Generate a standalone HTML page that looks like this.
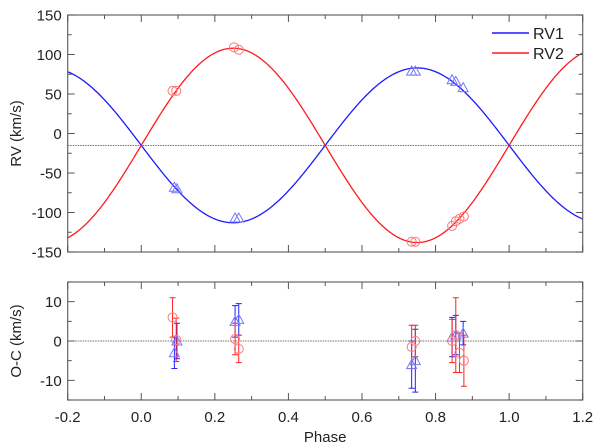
<!DOCTYPE html>
<html><head><meta charset="utf-8">
<style>html,body{margin:0;padding:0;background:#fff;width:600px;height:445px;overflow:hidden}
svg text{font-family:"Liberation Sans",Arial,sans-serif;fill:#222}</style></head>
<body>
<svg id="s" width="600" height="445" viewBox="0 0 600 445" xmlns="http://www.w3.org/2000/svg"></svg>
<script>
const S=document.getElementById('s');
let h='';
const L=67.7,R=582.7,T1=15,B1=252,T2=282,B2=400;
const X=p=>L+(p+0.2)/1.4*(R-L);
const Y1=v=>T1+(150-v)/300*(B1-T1);
const Y2=v=>T2+(15-v)/30*(B2-T2);
const g=-15,K1=98,K2=123;
let p1='',p2='';
for(let i=0;i<=280;i++){const p=-0.2+i*0.005;const s=Math.sin(2*Math.PI*p);
p1+=(i?'L':'M')+X(p).toFixed(2)+','+Y1(g-K1*s).toFixed(2);
p2+=(i?'L':'M')+X(p).toFixed(2)+','+Y1(g+K2*s).toFixed(2);}
// dotted lines
h+=`<line x1="${L}" x2="${R}" y1="${Y1(g)}" y2="${Y1(g)}" stroke="#444" stroke-width="0.8" stroke-dasharray="1.5,1"/>`;
h+=`<line x1="${L}" x2="${R}" y1="${Y2(0)}" y2="${Y2(0)}" stroke="#444" stroke-width="0.8" stroke-dasharray="1.5,1"/>`;
h+=`<path d="${p1}" fill="none" stroke="#1a1aff" stroke-width="1.3"/>`;
h+=`<path d="${p2}" fill="none" stroke="#ff1a1a" stroke-width="1.3"/>`;
const tri=(x,y)=>`<path d="M${x},${y-5}L${x+5},${y+4}L${x-5},${y+4}Z" fill="none" stroke="#7777ff" stroke-width="1"/>`;
const cir=(x,y)=>`<circle cx="${x}" cy="${y}" r="4.5" fill="none" stroke="#ff7777" stroke-width="1"/>`;
const rv1=[[0.09,-68],[0.097,-70],[0.255,-107],[0.265,-107],[0.735,79],[0.745,79],[0.845,68],[0.855,66],[0.875,58]];
const rv2=[[0.085,54],[0.095,54],[0.252,109],[0.265,106],[0.735,-137],[0.745,-137],[0.845,-117],[0.855,-111],[0.865,-108],[0.877,-105]];
rv1.forEach(d=>h+=tri(X(d[0]),Y1(d[1])));
rv2.forEach(d=>h+=cir(X(d[0]),Y1(d[1])));
// residuals
const oc1=[[0.09,-3,4],[0.097,0,4.5],[0.255,5,4],[0.265,5.5,4],[0.735,-6,6],[0.745,-5,8],[0.845,1,5],[0.855,1.5,5],[0.875,2,3]];
const oc2=[[0.085,6,5],[0.095,0.3,5.5],[0.255,0.5,4],[0.265,-2,3.5],[0.735,-1.5,5.5],[0.745,0,4],[0.845,0,5.5],[0.855,1.5,9.5],[0.865,-3,5],[0.877,-5,6.5]];
const eb=(d,c)=>{const x=X(d[0]);const a=Y2(d[1]+d[2]),b=Y2(d[1]-d[2]);
return `<path d="M${x},${a}V${b}M${x-3},${a}H${x+3}M${x-3},${b}H${x+3}" stroke="${c}" stroke-width="1" fill="none"/>`;};
oc1.forEach(d=>h+=eb(d,'#2222ff'));
oc2.forEach(d=>h+=eb(d,'#ff2222'));
oc1.forEach(d=>h+=tri(X(d[0]),Y2(d[1])));
oc2.forEach(d=>h+=cir(X(d[0]),Y2(d[1])));
// frames & ticks
const fr=(T,B,ymin,ymax,maj,mnr,lab)=>{
 let s=`<rect x="${L}" y="${T}" width="${R-L}" height="${B-T}" fill="none" stroke="#666" stroke-width="1.2"/>`;
 const Y=v=>T+(ymax-v)/(ymax-ymin)*(B-T);
 for(let i=0;i<=14;i++){const x=X(-0.2+i*0.1);const l=i%2?4:7;
  s+=`<path d="M${x},${B}V${B-l}M${x},${T}V${T+l}" stroke="#555"/>`;}
 for(let v=ymin;v<=ymax+1e-6;v+=mnr){const y=Y(v);const m=Math.abs(v/maj-Math.round(v/maj))<1e-6;const l=m?7:4;
  s+=`<path d="M${L},${y}H${L+l}M${R},${y}H${R-l}" stroke="#555"/>`;
  if(m&&lab.includes(v))s+=`<text x="${L-6}" y="${y+5.5}" font-size="15" text-anchor="end">${v}</text>`;}
 return s;};
h+=fr(T1,B1,-150,150,50,25,[-150,-100,-50,0,50,100,150]);
h+=fr(T2,B2,-15,15,10,5,[-10,0,10]);
['-0.2','0.0','0.2','0.4','0.6','0.8','1.0','1.2'].forEach((t,i)=>h+=`<text x="${X(-0.2+i*0.2)}" y="422" font-size="15" text-anchor="middle">${t}</text>`);
h+=`<text x="${(L+R)/2}" y="442" font-size="15" text-anchor="middle">Phase</text>`;
h+=`<text transform="translate(21,${(T1+B1)/2}) rotate(-90)" font-size="15" text-anchor="middle">RV (km/s)</text>`;
h+=`<text transform="translate(21,${(T2+B2)/2}) rotate(-90)" font-size="15" text-anchor="middle">O-C (km/s)</text>`;
h+=`<line x1="492" x2="529" y1="33" y2="33" stroke="#1a1aff" stroke-width="1.5"/><text x="533" y="39" font-size="16">RV1</text>`;
h+=`<line x1="492" x2="529" y1="53" y2="53" stroke="#ff1a1a" stroke-width="1.5"/><text x="533" y="59" font-size="16">RV2</text>`;
S.innerHTML=h;
</script>
</body></html>
